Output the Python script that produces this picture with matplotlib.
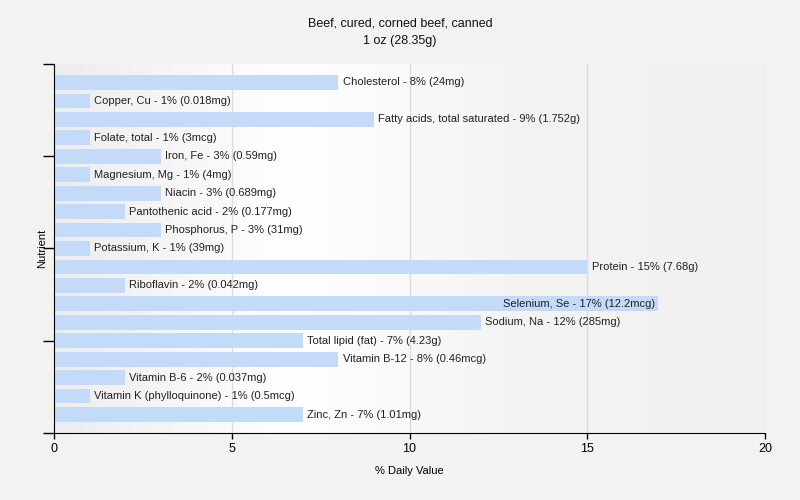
import matplotlib
matplotlib.use("Agg")
import matplotlib.pyplot as plt
import numpy as np
from matplotlib.colors import LinearSegmentedColormap

nutrients = ["Cholesterol", "Copper, Cu", "Fatty acids, total saturated", "Folate, total",
             "Iron, Fe", "Magnesium, Mg", "Niacin", "Pantothenic acid", "Phosphorus, P",
             "Potassium, K", "Protein", "Riboflavin", "Selenium, Se", "Sodium, Na",
             "Total lipid (fat)", "Vitamin B-12", "Vitamin B-6", "Vitamin K (phylloquinone)",
             "Zinc, Zn"]
dv_percent = [8, 1, 9, 1, 3, 1, 3, 2, 3, 1, 15, 2, 17, 12, 7, 8, 2, 1, 7]
amounts = ["24mg", "0.018mg", "1.752g", "3mcg", "0.59mg", "4mg", "0.689mg", "0.177mg",
           "31mg", "39mg", "7.68g", "0.042mg", "12.2mcg", "285mg", "4.23g", "0.46mcg",
           "0.037mg", "0.5mcg", "1.01mg"]
x_ticks = [0, 5, 10, 15, 20]

plt.rcParams['font.family'] = ['Liberation Sans', 'DejaVu Sans']

fig = plt.figure(figsize=(8, 5), dpi=100, facecolor='#f2f2f1')
ax = fig.add_axes([0.0675, 0.134, 0.8888, 0.738])

# gradient background
cmap = LinearSegmentedColormap.from_list('bg', ['#ededed', '#ffffff', '#f3f3f3', '#f1f1f1'])
grad = np.linspace(0, 1, 256).reshape(1, -1)
ax.imshow(grad, extent=[0, 1, 0, 1], transform=ax.transAxes, cmap=cmap,
          aspect='auto', zorder=0)

ax.set_xlim(0, 20)
ax.set_ylim(19, -1)
for xv in x_ticks[1:]:
    ax.axvline(xv, color='#dcdcdc', lw=1, zorder=1)

y = np.arange(len(nutrients))
ax.barh(y, dv_percent, height=0.8, color='#c3dbf8', zorder=2)

for i, (n, v, a) in enumerate(zip(nutrients, dv_percent, amounts)):
    label = f"{n} - {v}% ({a})"
    if v >= 16:
        ax.text(v - 0.1, i, label, ha='right', va='center', fontsize=8, color='#222222', zorder=3)
    else:
        ax.text(v + 0.12, i, label, ha='left', va='center', fontsize=8, color='#222222', zorder=3)

ax.set_xticks(x_ticks)
ax.set_xticklabels([str(t) for t in x_ticks], fontsize=9)
ax.set_yticks([-1, 4, 9, 14, 19])
ax.set_yticklabels([])
ax.tick_params(axis='y', length=8, width=1, color='black')
ax.tick_params(axis='x', length=4, width=1, color='black', pad=3)

for s in ['top', 'right']:
    ax.spines[s].set_visible(False)
ax.spines['left'].set_color('black')
ax.spines['bottom'].set_color('black')

ax.set_xlabel('% Daily Value', fontsize=8, labelpad=8)
ax.set_ylabel('Nutrient', fontsize=8)
ax.yaxis.set_label_coords(-0.009, 0.5)

fig.suptitle('Beef, cured, corned beef, canned\n1 oz (28.35g)', fontsize=9, y=0.965,
             color='#111111', linespacing=1.6)

fig.savefig('out.png', dpi=100, facecolor=fig.get_facecolor())
